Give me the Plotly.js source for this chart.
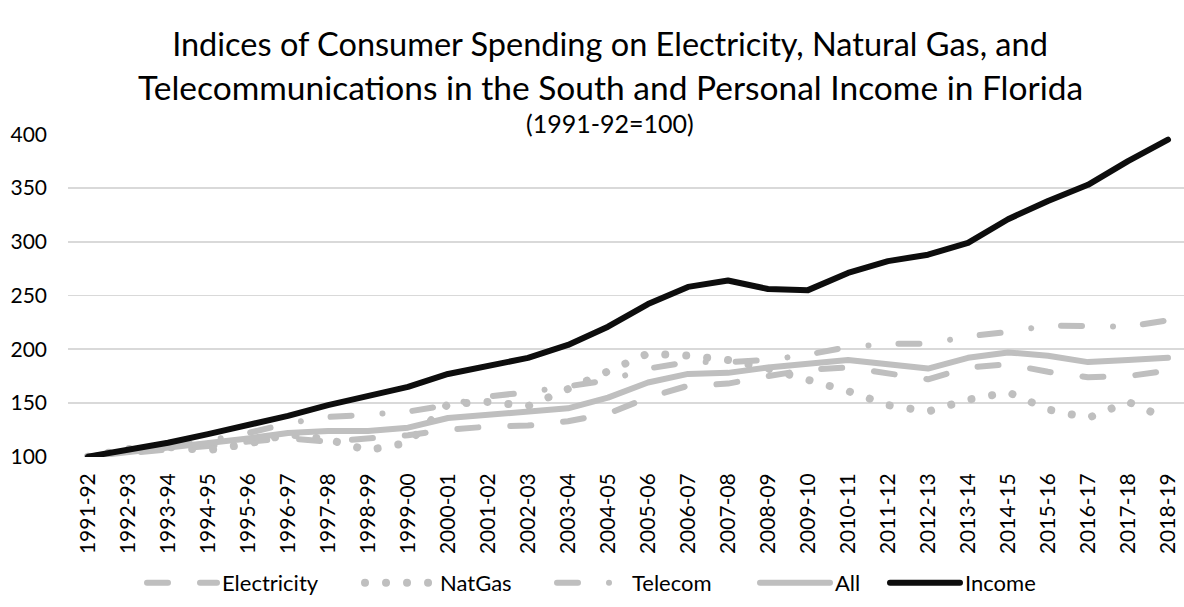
<!DOCTYPE html>
<html>
<head>
<meta charset="utf-8">
<script src="https://cdn.plot.ly/plotly-3.0.1.min.js"></script>
<style>
  html, body { margin: 0; padding: 0; background: #fff; }
  #chart { width: 1184px; height: 607px; }
  .scatterlayer .js-line, .legendlines .js-line { stroke-linecap: round; stroke-linejoin: round; }
</style>
</head>
<body>
<div id="chart"></div>
<script>
const categories = ['1991-92','1992-93','1993-94','1994-95','1995-96','1996-97','1997-98','1998-99','1999-00','2000-01',
  '2001-02','2002-03','2003-04','2004-05','2005-06','2006-07','2007-08','2008-09','2009-10','2010-11',
  '2011-12','2012-13','2013-14','2014-15','2015-16','2016-17','2017-18','2018-19'];

const electricity = [100, 103, 106, 110, 114, 117, 114, 117, 120, 125, 128, 129, 133, 140, 155, 166, 168, 175, 181, 183, 177, 172, 183, 186, 179, 174, 175, 180];
const natGas      = [100, 107, 109, 106, 112, 121, 116, 106, 113, 149, 151, 147, 163, 179, 196, 194, 190, 182, 171, 161, 148, 142, 153, 160, 144, 136, 151, 135];
const telecom     = [100, 104, 109, 115, 122, 131, 137, 139, 142, 148, 156, 160, 166, 171, 182, 188, 188, 190, 195, 202, 205, 205, 212, 216, 222, 221, 221, 227];
const allSpending = [100, 104, 108, 113, 117, 122, 124, 124, 127, 136, 139, 142, 145, 155, 169, 177, 178, 183, 187, 190, 186, 182, 192, 197, 194, 188, 190, 192];
const income      = [100, 106, 113, 121, 129, 138, 148, 157, 165, 177, 184, 192, 204, 221, 242, 258, 264, 256, 255, 271, 282, 288, 299, 321, 338, 353, 375, 395];

const yTicks = [100, 150, 200, 250, 300, 350, 400];

const GRAY = '#BFBFBF';
const BLACK = '#0D0D0D';
const FONT = 'Lato, "Open Sans", sans-serif';
const W = 1184, H = 607;
const PLOT_L = 68, PLOT_W = 1116, PLOT_T = 134, PLOT_H = 323;
const CENTER_X = 610;

const traces = [
  { name: 'Electricity', x: categories, y: electricity, type: 'scatter', mode: 'lines', legendwidth: 133,
    line: { color: GRAY, width: 6, dash: '21px,32px' } },
  { name: 'NatGas', x: categories, y: natGas, type: 'scatter', mode: 'lines', legendwidth: 107,
    line: { color: GRAY, width: 8, dash: '0.01px,21px' } },
  { name: 'Telecom', x: categories, y: telecom, type: 'scatter', mode: 'lines', legendwidth: 118,
    line: { color: GRAY, width: 6, dash: '21px,31px,0.01px,30px' } },
  { name: 'All', x: categories, y: allSpending, type: 'scatter', mode: 'lines', legendwidth: 45,
    line: { color: GRAY, width: 6 } },
  { name: 'Income', x: categories, y: income, type: 'scatter', mode: 'lines', legendwidth: 71,
    line: { color: BLACK, width: 6 } }
];

const layout = {
  width: W, height: H,
  paper_bgcolor: '#fff', plot_bgcolor: '#fff',
  font: { family: FONT, color: '#000', size: 21 },
  margin: { l: PLOT_L, r: W - PLOT_L - PLOT_W, t: PLOT_T, b: H - PLOT_T - PLOT_H },
  title: {
    text: 'Indices of Consumer Spending on Electricity, Natural Gas, and',
    font: { family: FONT, size: 32.5, color: '#000' },
    x: CENTER_X / W, xref: 'container', xanchor: 'center',
    y: 1 - 45 / H, yref: 'container', yanchor: 'middle'
  },
  annotations: [
    { text: 'Telecommunications in the South and Personal Income in Florida',
      xref: 'paper', yref: 'paper', x: (CENTER_X - PLOT_L) / PLOT_W, xanchor: 'center',
      y: 1 + (PLOT_T - 86.5) / PLOT_H, yanchor: 'middle', showarrow: false,
      font: { family: FONT, size: 33.5, color: '#000' } },
    { text: '(1991-92=100)',
      xref: 'paper', yref: 'paper', x: (CENTER_X - PLOT_L) / PLOT_W, xanchor: 'center',
      y: 1 + (PLOT_T - 122.5) / PLOT_H, yanchor: 'middle', showarrow: false,
      font: { family: FONT, size: 25, color: '#000' } }
  ],
  xaxis: {
    type: 'category', range: [-0.5, 27.4],
    tickangle: -90, showgrid: false, zeroline: false,
    showline: false, ticks: '', ticklabelstandoff: 11,
    tickfont: { family: FONT, size: 21, color: '#000' },
    automargin: false
  },
  yaxis: {
    range: [99.7, 400.3], tickvals: yTicks, ticktext: yTicks.map(String),
    showgrid: true, gridcolor: '#D9D9D9', gridwidth: 1.5,
    zeroline: false, showline: false, ticks: '', ticklabelstandoff: 20,
    tickfont: { family: FONT, size: 21, color: '#000' },
    automargin: false
  },
  showlegend: true,
  legend: {
    orientation: 'h', xref: 'container', yref: 'container',
    x: 142 / W, xanchor: 'left', y: 1 - 583 / H, yanchor: 'middle',
    font: { family: FONT, size: 22, color: '#000' },
    itemwidth: 70, traceorder: 'normal', bgcolor: 'rgba(0,0,0,0)'
  }
};

Plotly.newPlot('chart', traces, layout, { displayModeBar: false, staticPlot: true });
</script>
</body>
</html>
